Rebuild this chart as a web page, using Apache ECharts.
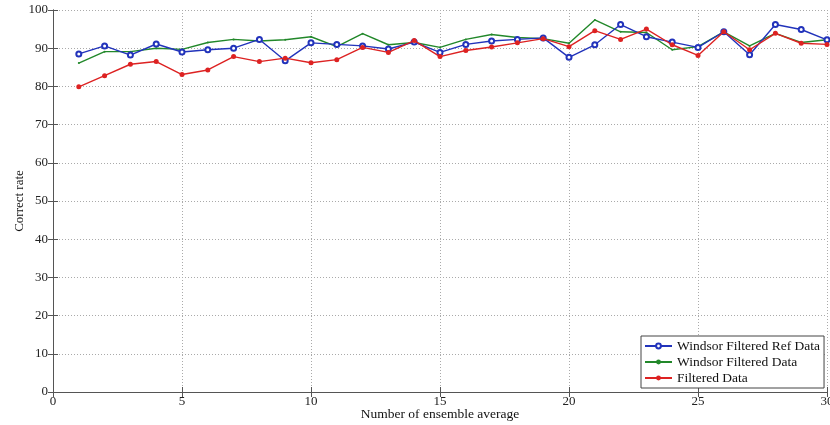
<!DOCTYPE html>
<html><head><meta charset="utf-8">
<script src="https://cdn.jsdelivr.net/npm/echarts@6/dist/echarts.min.js"></script>
<style>html,body{margin:0;padding:0;background:#fff}#c{width:830px;height:425px}</style>
</head><body><div id="c"></div>
<script>
var xs = [1,2,3,4,5,6,7,8,9,10,11,12,13,14,15,16,17,18,19,20,21,22,23,24,25,26,27,28,29,30];
var windsorRef = [88.5,90.6,88.2,91.1,89.0,89.6,90.0,92.3,86.7,91.4,91.0,90.6,89.8,91.6,88.9,91.0,91.9,92.3,92.7,87.6,90.9,96.2,93.0,91.6,90.2,94.3,88.3,96.2,94.9,92.2];
var windsor = [86.1,89.1,89.1,90.0,89.7,91.5,92.3,91.9,92.2,93.0,90.4,93.8,90.9,91.5,90.2,92.3,93.6,92.8,92.5,91.3,97.4,94.3,94.1,89.6,90.4,94.3,90.6,93.9,91.5,92.2];
var filtered = [79.9,82.8,85.8,86.5,83.1,84.3,87.8,86.5,87.4,86.2,87.0,90.2,88.9,92.0,87.8,89.4,90.3,91.4,92.5,90.4,94.6,92.3,95.0,90.9,88.1,94.3,89.6,93.9,91.3,91.0];
var xTicks = [0,5,10,15,20,25,30];
var yTicks = [0,10,20,30,40,50,60,70,80,90,100];

function pairs(v){ return xs.map(function(x,i){ return [x, v[i]]; }); }
var font = 'Liberation Serif';
var chart = echarts.init(document.getElementById('c'));
var axisLine = {show:true, lineStyle:{color:'#555', width:1}};
chart.setOption({
  animation:false,
  grid:{left:53, right:3, top:10, bottom:33, containLabel:false, outerBoundsMode:'none'},
  legend:{
    orient:'vertical', left:641, top:336,
    backgroundColor:'#fff', borderColor:'#444', borderWidth:1,
    padding:[3,4,3,3], itemGap:2, itemWidth:27, itemHeight:6,
    textStyle:{fontFamily:font, fontSize:13.5, color:'#111'},
    data:['Windsor Filtered Ref Data','Windsor Filtered Data','Filtered Data']
  },
  xAxis:[{
    type:'value', min:0, max:30, interval:5,
    name:'Number of ensemble average', nameLocation:'middle', nameGap:15, nameMoveOverlap:false,
    nameTextStyle:{fontFamily:font, fontSize:13.5, color:'#111'},
    axisLine:axisLine,
    axisTick:{show:true, inside:true, length:5, lineStyle:{color:'#555'}},
    axisLabel:{fontFamily:font, fontSize:13, color:'#222', margin:3},
    splitLine:{show:true, lineStyle:{color:'#aaa', type:[1,2], width:1}}
  },{
    type:'value', min:0, max:30, interval:5, position:'top',
    axisLine:axisLine,
    axisTick:{show:true, inside:true, length:5, lineStyle:{color:'#555'}},
    axisLabel:{show:false}, splitLine:{show:false}
  }],
  yAxis:[{
    type:'value', min:0, max:100, interval:10,
    name:'Correct rate', nameLocation:'middle', nameGap:27, nameRotate:90, nameMoveOverlap:false,
    nameTextStyle:{fontFamily:font, fontSize:13, color:'#111'},
    axisLine:axisLine,
    axisTick:{show:true, inside:true, length:5, lineStyle:{color:'#555'}},
    axisLabel:{fontFamily:font, fontSize:13, color:'#222', margin:5},
    splitLine:{show:true, lineStyle:{color:'#aaa', type:[1,2], width:1}}
  },{
    type:'value', min:0, max:100, interval:10, position:'right',
    axisLine:axisLine,
    axisTick:{show:true, inside:true, length:5, lineStyle:{color:'#555'}},
    axisLabel:{show:false}, splitLine:{show:false}
  }],
  series:[
    {name:'Windsor Filtered Ref Data', type:'line', data:pairs(windsorRef),
     symbol:'emptyCircle', symbolSize:5, color:'#2233bb',
     lineStyle:{width:1.4, color:'#2233bb'}, itemStyle:{color:'#2233bb', borderWidth:1.2}, z:3},
    {name:'Windsor Filtered Data', type:'line', data:pairs(windsor),
     symbol:'circle', symbolSize:2, color:'#22882a',
     lineStyle:{width:1.4, color:'#22882a'}, itemStyle:{color:'#22882a'}, z:2},
    {name:'Filtered Data', type:'line', data:pairs(filtered),
     symbol:'circle', symbolSize:5, color:'#dd2222',
     lineStyle:{width:1.4, color:'#dd2222'}, itemStyle:{color:'#dd2222'}, z:4}
  ]
});
</script></body></html>
